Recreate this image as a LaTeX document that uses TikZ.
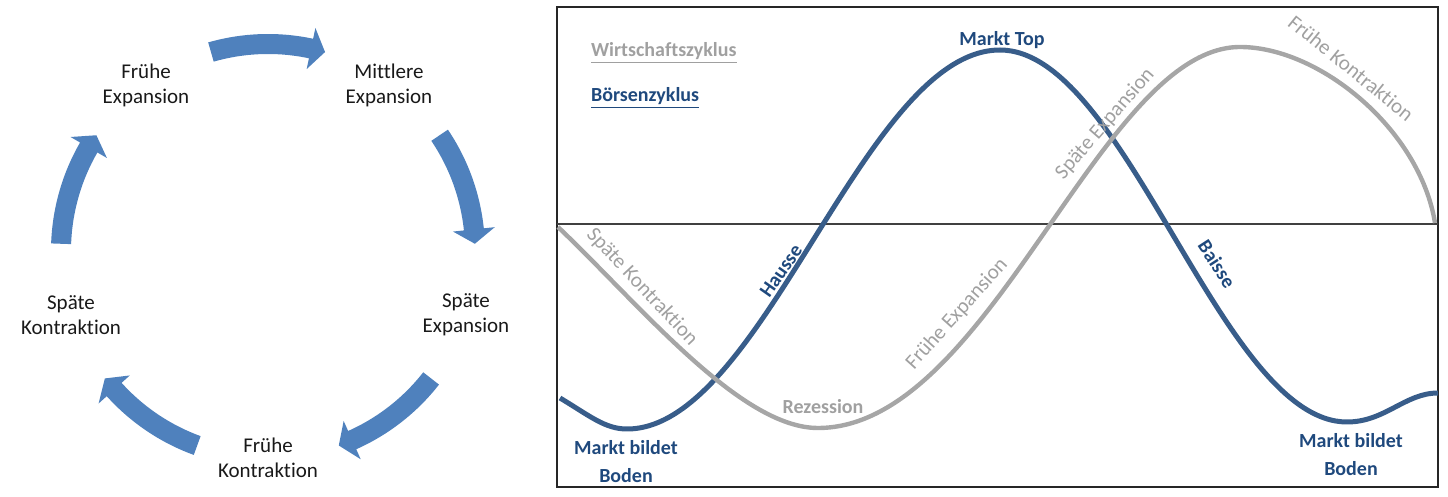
\documentclass[tikz,border=0pt]{standalone}
\usepackage{fontspec}
\setmainfont{Carlito}[Ligatures={NoCommon,NoContextual}]
\definecolor{arrowblue}{HTML}{4F81BD}
\definecolor{blueline}{HTML}{385D8A}
\definecolor{bluetext}{HTML}{1F497D}
\definecolor{greyline}{HTML}{A6A6A6}
\definecolor{greytext}{HTML}{A0A0A0}
\begin{document}
\begin{tikzpicture}
  [x=0.5pt,y=-0.5pt,
   phase/.style={align=center,text=black!90,font=\fontsize{10.5}{12.5}\selectfont},
   boerse/.style={align=center,text=bluetext,font=\bfseries\fontsize{10}{14}\selectfont},
   wirt/.style={text=greytext,font=\fontsize{10.5}{12}\selectfont}]
  \useasboundingbox (0,0) rectangle (1448,497);
  % Zyklus links
  \node (fe) [phase] at (146,85) {Frühe\\Expansion};
  \node (me) [phase] at (389,85) {Mittlere\\Expansion};
  \node (se) [phase] at (466,315) {Späte\\Expansion};
  \node (fk) [phase] at (268,458) {Frühe\\Kontraktion};
  \node (sk) [phase] at (71,315) {Späte\\Kontraktion};
  \begin{scope}[shift={(268,251)},yscale=-1]
    \foreach \m [evaluate=\m as \t using \m+16, evaluate=\m as \h using \m-12,
                 evaluate=\m as \p using \m-16] in {90,18,-54,-126,162}
      \fill[arrowblue] (\t:217) arc[start angle=\t, end angle=\h, radius=217]
        -- (\h:228) -- (\p:207) -- (\h:186) -- (\h:197)
        arc[start angle=\h, end angle=\t, radius=197] -- cycle;
  \end{scope}
  % Boersenzyklus und Wirtschaftszyklus
  \draw[line width=1.1pt,black!85] (557,7) rectangle (1438,487);
  \draw[line width=0.6pt,black!75] (557,224) -- (1438,224);
  \draw[blueline,line width=2.5pt] (560,398)
    .. controls (590,416) and (605,429) .. (627,429)
    .. controls (763,429) and (864,50) .. (1000,50)
    .. controls (1126,50) and (1221,422) .. (1347,422)
    .. controls (1385,422) and (1405,393) .. (1438,393);
  \draw[greyline,line width=2.2pt] (558,227)
    .. controls (640,305) and (740,428) .. (818,428)
    .. controls (990,428) and (1100,47) .. (1240,47)
    .. controls (1320,47) and (1420,130) .. (1435,223);
  \node (wz) [wirt,anchor=west,font=\bfseries\fontsize{10}{12}\selectfont] at (584,53) {\underline{Wirtschaftszyklus}};
  \node (bz) [boerse,anchor=west] at (584,98) {\underline{Börsenzyklus}};
  \node (top) [boerse] at (1002,40) {Markt Top};
  \node (hausse) [boerse,rotate=55] at (781,271) {Hausse};
  \node (baisse) [boerse,rotate=-57] at (1217,264) {Baisse};
  \node (boden1) [boerse] at (626,462) {Markt bildet\\Boden};
  \node (boden2) [boerse] at (1351,455) {Markt bildet\\Boden};
  \node (sk2) [wirt,rotate=-47] at (642,287) {Späte Kontraktion};
  \node (rez) [wirt,font=\bfseries\fontsize{10}{12}\selectfont] at (823,407) {Rezession};
  \node (fe2) [wirt,rotate=48] at (957,314) {Frühe Expansion};
  \node (se2) [wirt,rotate=49] at (1105,124) {Späte Expansion};
  \node (fk2) [wirt,rotate=-39] at (1351,68) {Frühe Kontraktion};
\end{tikzpicture}
\end{document}
